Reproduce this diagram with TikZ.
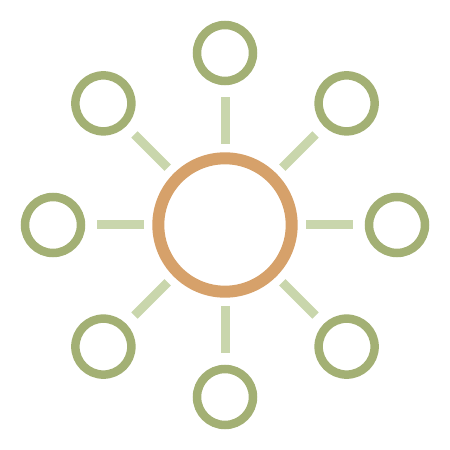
\documentclass[tikz,border=0pt]{standalone}
\usepackage{tikz}
\usetikzlibrary{shapes,arrows,calc}
\definecolor{hubbrown}{RGB}{214,161,106}
\definecolor{leafgreen}{RGB}{163,176,116}
\definecolor{spokegreen}{RGB}{201,214,172}

\begin{document}
\begin{tikzpicture}[x=1pt,y=1pt,
    hub/.style={circle, draw=hubbrown, line width=12pt, minimum size=133.4pt, inner sep=0pt, outer sep=0pt},
    leaf/.style={circle, draw=leafgreen, line width=8.5pt, minimum size=56pt, inner sep=0pt, outer sep=0pt},
    spoke/.style={draw=spokegreen, line width=9pt, shorten <=14.3pt, shorten >=16pt}]
\useasboundingbox (0,0) rectangle (450,450);
\node[hub] (hub) at (225,225) {};
% the eight satellites round the hub
\foreach \a in {0,45,...,315} {
    \node[leaf] (leaf\a) at ($(225,225)+(\a:172)$) {};
    \draw[spoke] (hub) -- (leaf\a);
}
\end{tikzpicture}
\end{document}
